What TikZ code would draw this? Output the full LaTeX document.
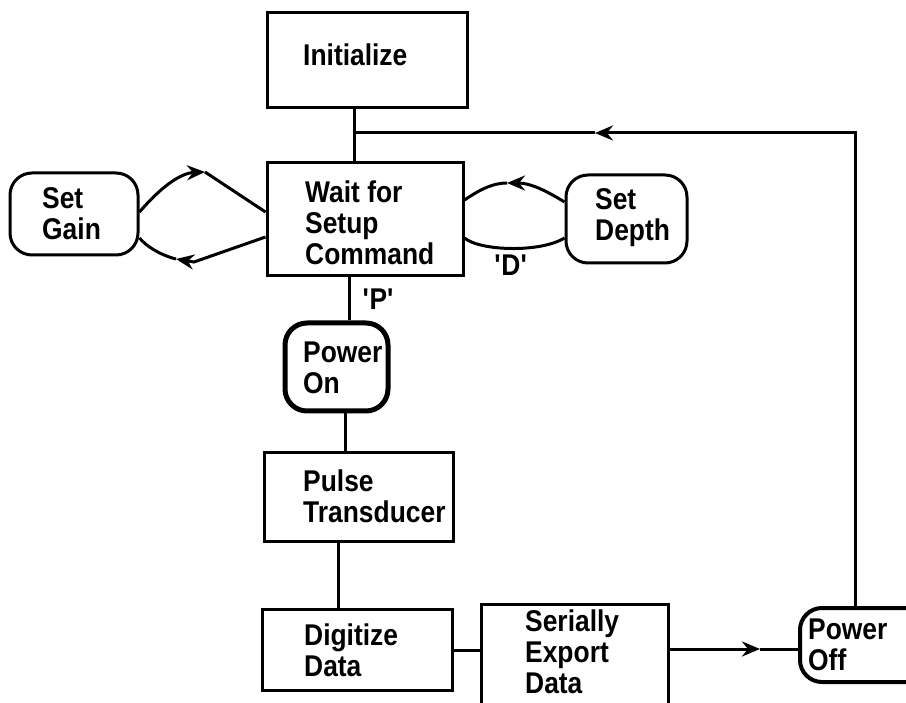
\documentclass[tikz,border=0pt]{standalone}
\usepackage{fontspec}
\setmainfont{Liberation Sans}[FakeStretch=0.88]
\usetikzlibrary{arrows.meta}
\begin{document}
\begin{tikzpicture}[x=1pt,y=-1pt,
  box/.style={draw, line width=3pt, rectangle, inner sep=0pt},
  rbox/.style={box, rounded corners=22pt},
  txt/.style={font=\fontsize{30}{31}\selectfont\bfseries, align=left, anchor=west, inner sep=0pt},
  wire/.style={line width=3pt},
  tip/.style={-{Stealth[length=18pt,width=15pt,inset=6pt]}}]
\useasboundingbox (0,0) rectangle (906,703);
\clip (0,0) rectangle (906,703);
% boxes
\node[box, minimum width=200pt, minimum height=95pt] (init) at (367,60.5) {};
\node[box, minimum width=196pt, minimum height=113pt] (wait) at (365,219.5) {};
\node[rbox, minimum width=128pt, minimum height=82pt] (gain) at (74,214) {};
\node[rbox, minimum width=121pt, minimum height=88pt] (depth) at (626.5,219) {};
\node[rbox, line width=5pt, minimum width=103pt, minimum height=88pt] (pon) at (336.5,367) {};
\node[box, minimum width=189pt, minimum height=88pt] (pulse) at (358.5,497) {};
\node[box, minimum width=190pt, minimum height=81pt] (dig) at (357,649.5) {};
\node[box, minimum width=187pt, minimum height=111pt] (ser) at (574.5,659.5) {};
\node[rbox, line width=4pt, minimum width=180pt, minimum height=74pt] (poff) at (890,645) {};
% texts
\node[txt] (initT) at (303,55) {Initialize};
\node[txt] (waitT) at (305,223) {Wait for\\Setup\\Command};
\node[txt] (gainT) at (42,214) {Set\\Gain};
\node[txt] (depthT) at (595,218) {Set\\Depth};
\node[txt] (ponT) at (303,368) {Power\\On};
\node[txt] (pulseT) at (303,496) {Pulse\\Transducer};
\node[txt] (digT) at (304,650) {Digitize\\Data};
\node[txt] (serT) at (525,652) {Serially\\Export\\Data};
\node[txt] (poffT) at (808,645) {Power\\Off};
% connectors
\coordinate (j) at (354,133);
\draw[wire] (init.south -| 354,0) -- (wait.north -| 354,0);
\draw[wire, tip] (poff.north -| 855,0) |- (595,133);
\draw[wire] (595,133) -- (j);
\draw[wire] (wait.south -| 349,0) -- (pon.north -| 349,0)
  node[midway, txt, anchor=west, xshift=12pt] (pl) {\textquotesingle P\textquotesingle};
\draw[wire] (pon.south -| 345,0) -- (pulse.north -| 345,0);
\draw[wire] (pulse.south -| 338,0) -- (dig.north -| 338,0);
\draw[wire] (dig.east |- 0,650) -- (ser.west |- 0,650);
\draw[wire, tip] (ser.east |- 0,649) -- (760,649);
\draw[wire] (760,649) -- (poff.west |- 0,649);
% set gain loops
\draw[wire, tip] (gain.east |- 0,212) .. controls (160,188) and (180,173) .. (205,172);
\draw[wire] (205,172) -- (wait.west |- 0,212);
\draw[wire, tip] (wait.west |- 0,237) -- (194,262) -- (176,259);
\draw[wire] (176,259) .. controls (160,255) and (146,246) .. (gain.east |- 0,238);
% set depth loops
\draw[wire, tip] (depth.west |- 0,202) .. controls (545,190) and (530,183) .. (507,183);
\draw[wire] (507,183) .. controls (490,183) and (475,193) .. (wait.east |- 0,200);
\draw[wire] (wait.east |- 0,238) .. controls (480,251) and (540,253) .. (depth.west |- 0,238);
\node[txt, anchor=center] (dl) at (511,265) {\textquotesingle D\textquotesingle};
\end{tikzpicture}
\end{document}
